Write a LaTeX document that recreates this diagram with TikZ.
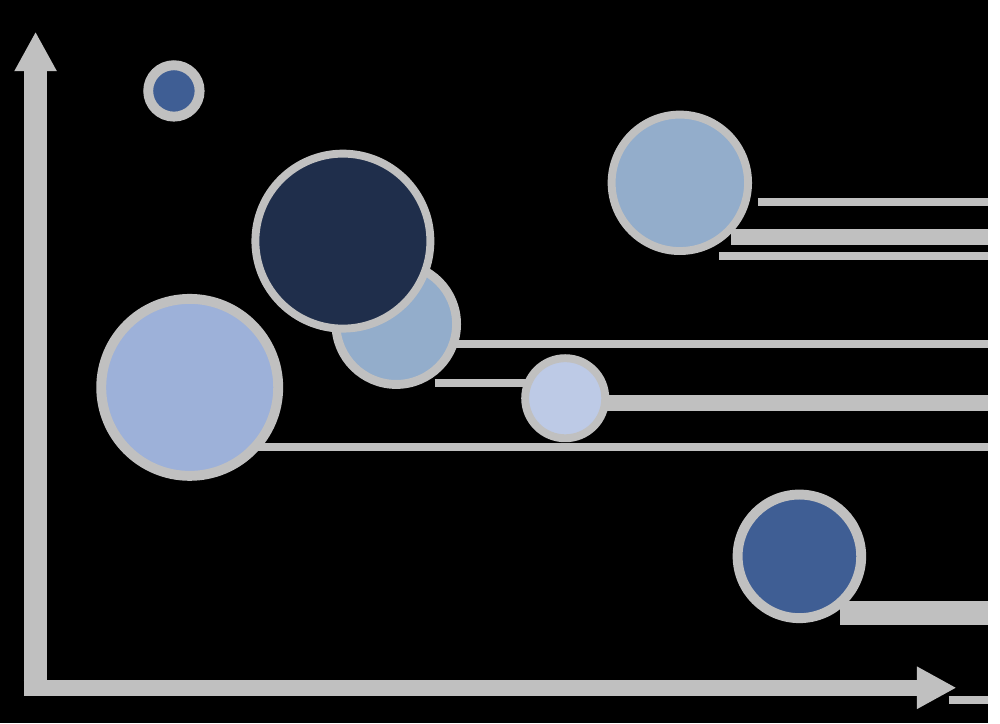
\documentclass[tikz,border=0pt]{standalone}
\usepackage{tikz}
\usetikzlibrary{arrows.meta}
\usepackage{xcolor}
\definecolor{axisgray}{HTML}{C0C0C0}
\definecolor{navy}{HTML}{1F2E4B}
\definecolor{steel}{HTML}{93ADCB}
\definecolor{lavender}{HTML}{9DB1D9}
\definecolor{pale}{HTML}{BDCAE6}
\definecolor{royal}{HTML}{3F5E94}
\tikzset{
	bubble/.style={circle, draw=axisgray, inner sep=0pt},
	axis/.style={draw=axisgray, -{Triangle[width=0.4cm, length=0.4cm]}},
	guide/.style={draw=axisgray}
}

\begin{document}
\begin{tikzpicture}[x=0.01cm, y=-0.01cm]
		\fill[black] (0,0) rectangle (1000,732);
		
		\draw[guide, line width=0.08cm] (767,204) -- (1000,204);
		\draw[guide, line width=0.16cm] (740,240) -- (1000,240);
		\draw[guide, line width=0.08cm] (728,259) -- (1000,259);
		\draw[guide, line width=0.08cm] (460,348) -- (1000,348);
		\draw[guide, line width=0.08cm] (440,388) -- (540,388);
		\draw[guide, line width=0.16cm] (600,408) -- (1000,408);
		\draw[guide, line width=0.08cm] (260,452) -- (1000,452);
		\draw[guide, line width=0.24cm] (850,620) -- (1000,620);
		\draw[guide, line width=0.08cm] (960,708) -- (1000,708);
		
		\node[bubble, fill=royal, line width=0.1cm, minimum size=0.52cm] (dot) at (176,92) {};
		\node[bubble, fill=steel, line width=0.08cm, minimum size=1.38cm] (upper) at (688,185) {};
		\node[bubble, fill=steel, line width=0.09cm, minimum size=1.22cm] (middle) at (401,328) {};
		\node[bubble, fill=navy, line width=0.08cm, minimum size=1.77cm] (large) at (347,244) {};
		\node[bubble, fill=lavender, line width=0.1cm, minimum size=1.79cm] (left) at (192,392) {};
		\node[bubble, fill=pale, line width=0.08cm, minimum size=0.81cm] (small) at (572,403) {};
		\node[bubble, fill=royal, line width=0.1cm, minimum size=1.25cm] (lower) at (809,563) {};
		
		\draw[axis, line width=0.24cm] (36,704) -- (36,32);
		\draw[axis, line width=0.16cm] (24,696) -- (968,696);
	\end{tikzpicture}
\end{document}
